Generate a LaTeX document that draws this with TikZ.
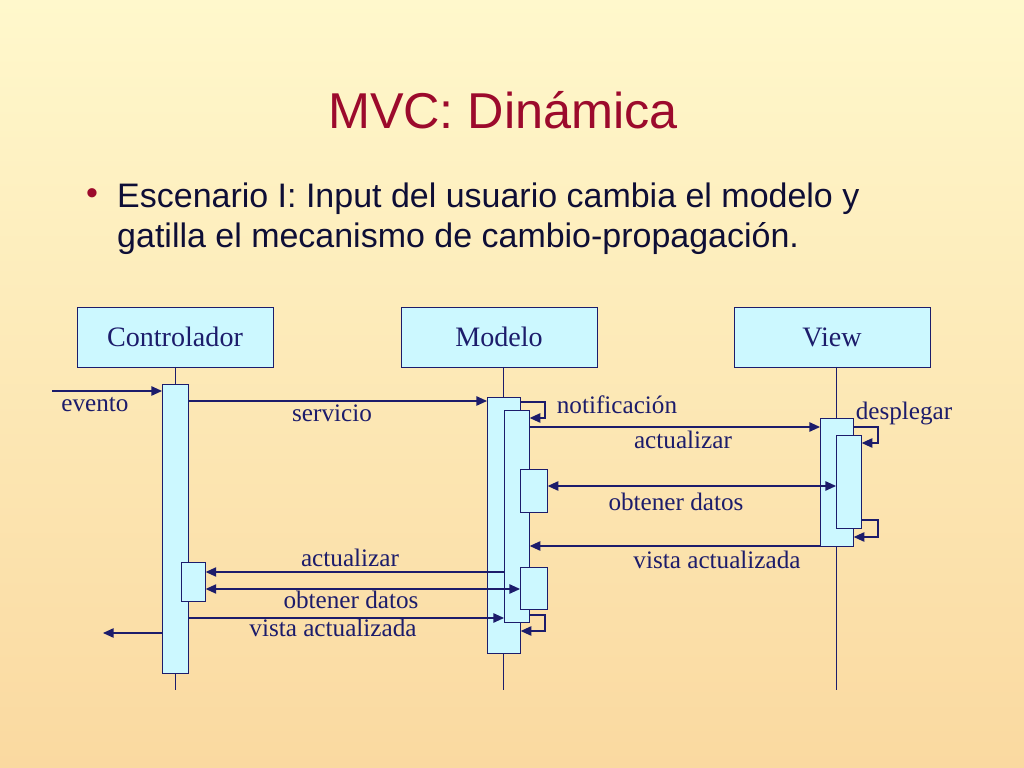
\documentclass[tikz,border=0pt]{standalone}
\usepackage{fontspec}
\setmainfont{Liberation Serif}
\setsansfont{Liberation Sans}
\usetikzlibrary{arrows.meta,positioning}
\definecolor{navy}{HTML}{1C1C6B}
\definecolor{boxfill}{HTML}{CCF8FF}
\definecolor{titlered}{HTML}{9C0A2C}
\definecolor{bgtop}{HTML}{FFF8CC}
\definecolor{bgbot}{HTML}{FAD9A0}
\tikzset{
  header/.style={draw=navy, fill=boxfill, line width=0.6pt, minimum width=196*0.03cm, minimum height=60*0.03cm, font=\fontsize{24}{26}\selectfont, text=navy},
  act/.style={draw=navy, fill=boxfill, line width=0.6pt, inner sep=0pt, anchor=north west},
  msg/.style={draw=navy, line width=1pt, -{Triangle[length=9pt,width=8pt]}},
  lbl/.style={text=navy, font=\fontsize{21.5}{23}\selectfont, inner sep=0pt},
  life/.style={draw=navy, line width=0.8pt}
}
\newcommand{\actbox}[5]{\node[act, minimum width=#3*0.03cm, minimum height=#4*0.03cm] (#5) at (#1,#2) {};}
\begin{document}
\begin{tikzpicture}[x=0.03cm, y=-0.03cm, >=Stealth]
  % background
  \shade[top color=bgtop, bottom color=bgbot] (0,0) rectangle (1024,768);
  \useasboundingbox (0,0) rectangle (1024,768);
  % title and bullet
  \node[text=titlered, font=\sffamily\fontsize{43}{46}\selectfont] (title) at (503,110) {MVC: Dinámica};
  \node[text=titlered, font=\sffamily\fontsize{29}{30}\selectfont] (bullet) at (92,197) {•};
  \node[anchor=north west, align=left, text=navy!50!black, font=\sffamily\fontsize{29}{34}\selectfont, inner sep=0pt] (text) at (117,183) {Escenario I: Input del usuario cambia el modelo y\\gatilla el mecanismo de cambio-propagación.};
  % objects
  \node[header] (ctrl) at (175,337) {Controlador};
  \node[header] (model) at (499,337) {Modelo};
  \node[header] (view) at (832,337) {View};
  \draw[life] (175,367) -- (175,690);
  \draw[life] (503,367) -- (503,690);
  \draw[life] (836,367) -- (836,690);
  % activations
  \actbox{162}{384}{26}{289}{ca}
  \actbox{181}{562}{24}{39}{cb}
  \actbox{487}{397}{33}{256}{ma}
  \actbox{504}{410}{25}{212}{mb}
  \actbox{520}{469}{27}{43}{mc}
  \actbox{520}{567}{27}{42}{md}
  \actbox{820}{418}{33}{128}{va}
  \actbox{836}{435}{25}{93}{vb}
  % messages
  \coordinate (user) at (52,391);
  \coordinate (back) at (103,633);
  \draw[msg] (user) -- (ca.west |- user);
  \node[lbl] (evento) at (95,405) {evento};
  \draw[msg] (ca.east |- 0,401) -- (ma.west |- 0,401);
  \node[lbl] (servicio) at (332,413) {servicio};
  \draw[msg] (ma.east |- 0,402) -- (545,402) -- (545,418) -- (mb.east |- 0,418);
  \node[lbl] (notif) at (617,405) {notificación};
  \draw[msg] (mb.east |- 0,427) -- (va.west |- 0,427);
  \node[lbl] (act1) at (683,440) {actualizar};
  \draw[msg, {Triangle[length=9pt,width=8pt]}-{Triangle[length=9pt,width=8pt]}] (mc.east |- 0,486) -- (vb.west |- 0,486);
  \node[lbl] (obt1) at (676,502) {obtener datos};
  \draw[msg] (va.east |- 0,427) -- (878,427) -- (878,443) -- (vb.east |- 0,443);
  \node[lbl] (despl) at (904,413) {desplegar};
  \draw[msg] (vb.east |- 0,520) -- (878,520) -- (878,537) -- (va.east |- 0,537);
  \draw[msg] (va.west |- 0,546) -- (mb.east |- 0,546);
  \node[lbl] (vista1) at (717,560) {vista actualizada};
  \draw[msg] (mb.west |- 0,572) -- (cb.east |- 0,572);
  \node[lbl] (act2) at (350,558) {actualizar};
  \draw[msg, {Triangle[length=9pt,width=8pt]}-{Triangle[length=9pt,width=8pt]}] (cb.east |- 0,589) -- (md.west |- 0,589);
  \node[lbl] (obt2) at (351,600) {obtener datos};
  \draw[msg] (ca.east |- 0,618) -- (mb.west |- 0,618);
  \node[lbl] (vista2) at (333,628) {vista actualizada};
  \draw[msg] (mb.east |- 0,615) -- (545,615) -- (545,631) -- (ma.east |- 0,631);
  \draw[msg] (ca.west |- back) -- (back);
\end{tikzpicture}
\end{document}
